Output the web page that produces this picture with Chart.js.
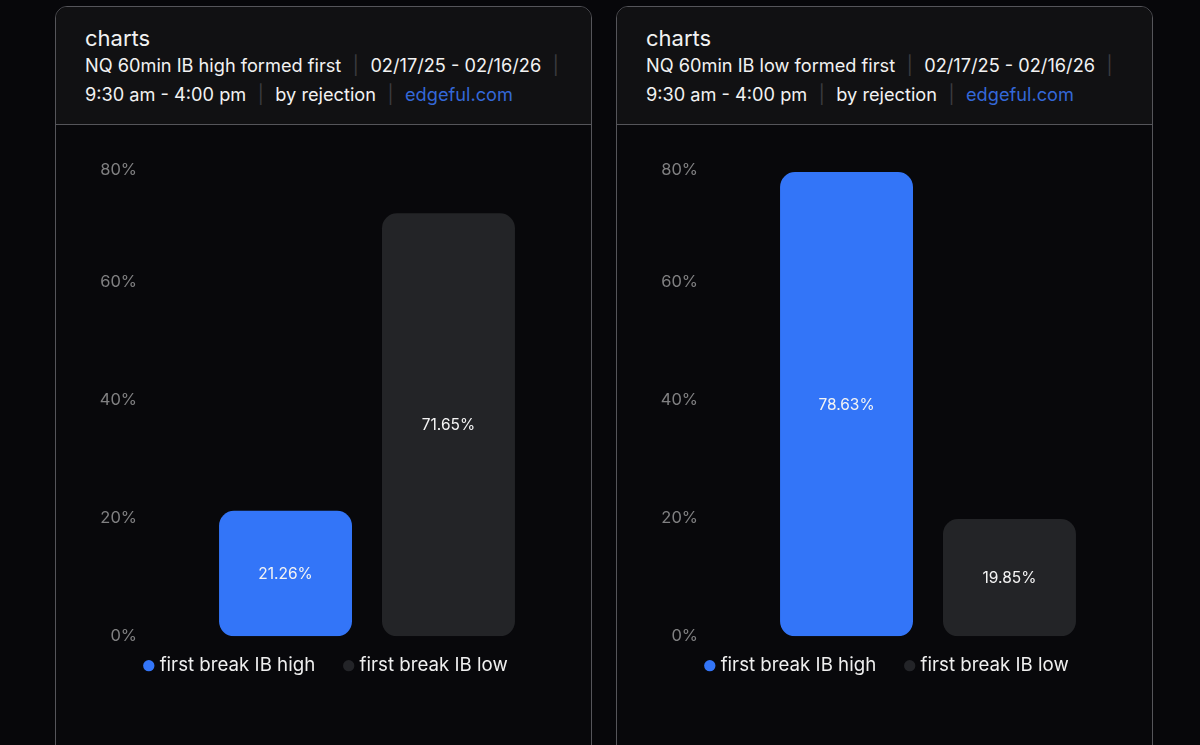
<!DOCTYPE html>
<html>
<head>
<meta charset="utf-8">
<script src="https://cdn.jsdelivr.net/npm/chart.js@4/dist/chart.umd.js"></script>
<style>
  html, body { margin: 0; width: 1200px; height: 745px; overflow: hidden; background: #07070a; font-family: Inter, sans-serif; }
  .card { position: absolute; top: 6px; width: 537px; height: 800px; box-sizing: border-box; border: 1px solid #55555a; border-radius: 12px; background: #08080b; }
  .head { height: 118px; box-sizing: border-box; background: #111113; border-bottom: 1px solid #55555a; border-radius: 11px 11px 0 0; padding: 18px 0 0 29px; color: #f2f2f2; }
  .title { font-size: 22px; line-height: 26px; }
  .line { font-size: 18.2px; line-height: 29px; white-space: nowrap; }
  .sep { color: #3c3c40; margin: 0 11.5px; }
  .link { color: #3468d8; }
  canvas { position: absolute; left: 0; top: 118px; }
</style>
</head>
<body>
<div class="card" style="left:55px">
  <div class="head">
    <div class="title">charts</div>
    <div class="line">NQ 60min IB high formed first<span class="sep">|</span>02/17/25 - 02/16/26<span class="sep">|</span></div>
    <div class="line">9:30 am - 4:00 pm<span class="sep">|</span>by rejection<span class="sep">|</span><span class="link">edgeful.com</span></div>
  </div>
  <canvas id="chartHigh"></canvas>
</div>
<div class="card" style="left:616px">
  <div class="head">
    <div class="title">charts</div>
    <div class="line">NQ 60min IB low formed first<span class="sep">|</span>02/17/25 - 02/16/26<span class="sep">|</span></div>
    <div class="line">9:30 am - 4:00 pm<span class="sep">|</span>by rejection<span class="sep">|</span><span class="link">edgeful.com</span></div>
  </div>
  <canvas id="chartLow"></canvas>
</div>
<script>
const seriesNames = ['first break IB high', 'first break IB low'];
const highFormedFirst = [21.26, 71.65];
const lowFormedFirst = [78.63, 19.85];
const yTicks = [0, 20, 40, 60, 80];

const colors = ['#3375f8', '#232427'];
const dotColors = ['#3375f8', '#232428'];

// prints the percent in the middle of each bar
const barLabels = {
  id: 'barLabels',
  afterDatasetsDraw(chart) {
    const ctx = chart.ctx;
    ctx.save();
    ctx.font = '15.5px Inter';
    ctx.fillStyle = '#f4f4f4';
    ctx.textAlign = 'center';
    ctx.textBaseline = 'middle';
    chart.data.datasets.forEach((ds, i) => {
      const bar = chart.getDatasetMeta(i).data[0];
      const c = bar.getCenterPoint();
      ctx.fillText(ds.data[0].toFixed(2) + '%', c.x, c.y + 1);
    });
    ctx.restore();
  }
};

// legend sits closer to the plot than its label padding would allow
const legendNudge = {
  id: 'legendNudge',
  afterLayout(chart) {
    chart.legend.top -= 12;
    chart.legend.left += 5;
    chart.legend.right += 5;
  }
};

function makeChart(id, values) {
  const canvas = document.getElementById(id);
  canvas.style.width = '535px';
  canvas.style.height = '572px';
  canvas.width = 535;
  canvas.height = 572;
  return new Chart(canvas, {
    type: 'bar',
    data: {
      labels: [''],
      datasets: seriesNames.map((name, i) => ({
        label: name,
        data: [values[i]],
        backgroundColor: colors[i],
        borderRadius: 15,
        borderSkipped: false,
        categoryPercentage: 0.734,
        barPercentage: 0.816
      }))
    },
    options: {
      responsive: false,
      animation: false,
      layout: { padding: { top: 39, right: 2, bottom: 0, left: 0 } },
      plugins: {
        tooltip: { enabled: false },
        legend: {
          position: 'bottom',
          labels: {
            usePointStyle: true,
            pointStyle: 'circle',
            boxWidth: 3,
            boxHeight: 8,
            padding: 32,
            color: '#efefef',
            font: { family: 'Inter', size: 18.7 },
            generateLabels(chart) {
              return chart.data.datasets.map((ds, i) => ({
                text: ds.label,
                fillStyle: dotColors[i],
                strokeStyle: dotColors[i],
                lineWidth: 0,
                pointStyle: 'circle',
                fontColor: '#efefef',
                datasetIndex: i
              }));
            }
          }
        }
      },
      scales: {
        x: { display: false },
        y: {
          min: 0,
          max: 80,
          afterFit(scale) { scale.width = 89; },
          afterBuildTicks(scale) { scale.ticks = yTicks.map(v => ({ value: v })); },
          grid: { display: false, drawTicks: false },
          border: { display: false },
          ticks: {
            color: '#808082',
            padding: 8,
            // top label sits a little under its value, as in the source
            font: c => ({ family: 'Inter', size: 16.5, lineHeight: c.tick && c.tick.value === 80 ? 0.7 : 1.2 }),
            callback: v => v === 80 ? ['', v + '%'] : v + '%'
          }
        }
      }
    },
    plugins: [barLabels, legendNudge]
  });
}

makeChart('chartHigh', highFormedFirst);
makeChart('chartLow', lowFormedFirst);
</script>
</body>
</html>
